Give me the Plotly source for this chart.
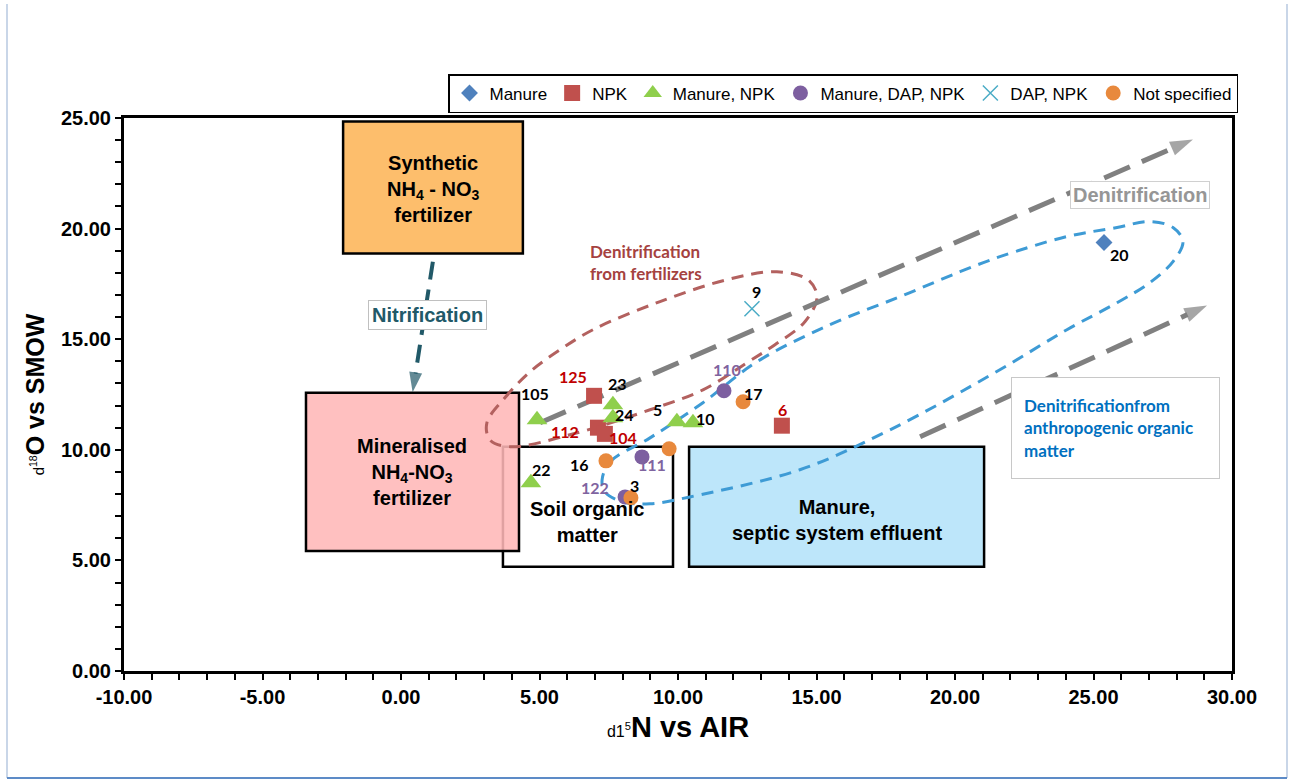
import plotly.graph_objects as go

# ---------------- data ----------------
manure_x = [25.38]
manure_y = [19.37]
manure_lbl = ["20"]

npk_x = [6.97, 7.11, 7.36, 13.75]
npk_y = [12.44, 11.00, 10.72, 11.09]
npk_lbl = ["125", "112", "104", "6"]

mnpk_x = [4.91, 7.65, 7.65, 9.96, 10.54, 4.69]
mnpk_y = [11.36, 12.04, 11.45, 11.27, 11.22, 8.51]
mnpk_lbl = ["105", "23", "24", "5", "10", "22"]

mdap_x = [11.66, 8.70, 8.09]
mdap_y = [12.67, 9.68, 7.87]
mdap_lbl = ["110", "111", "122"]

dap_x = [12.67]
dap_y = [16.38]
dap_lbl = ["9"]

ns_x = [12.35, 9.68, 7.40, 8.30]
ns_y = [12.17, 10.05, 9.50, 7.83]
ns_lbl = ["17", "", "16", "3"]

x_ticks = [-10, -5, 0, 5, 10, 15, 20, 25, 30]
y_ticks = [0, 5, 10, 15, 20, 25]
x_ticktext = ["%.2f" % v for v in x_ticks]
y_ticktext = ["%.2f" % v for v in y_ticks]

# annotation geometry (data units)
red_outline_x = [3.10, 3.75, 4.66, 5.74, 6.93, 9.35, 11.77, 13.57, 14.69, 15.02, 14.58, 13.50, 12.49,
                 10.90, 8.99, 6.10, 3.94, 3.21, 3.10]
red_outline_y = [11.22, 12.35, 13.53, 14.52, 15.43, 16.70, 17.69, 18.05, 17.69, 16.92, 15.79, 14.75, 13.94,
                 12.71, 11.81, 10.68, 10.14, 10.45, 11.22]
blue_outline_x = [7.26, 7.55, 8.99, 10.90, 12.85, 15.49, 18.01, 20.18, 21.62, 24.04, 25.85, 27.04, 27.87,
                  28.23, 27.87, 27.04, 25.85, 24.04, 21.62, 17.65, 14.40, 10.43, 8.99, 7.98, 7.36, 7.26]
blue_outline_y = [8.64, 9.46, 10.54, 12.13, 13.98, 15.66, 16.92, 18.05, 18.73, 19.64, 20.05, 20.32, 20.05,
                  19.41, 18.51, 17.56, 16.65, 15.43, 13.62, 10.90, 9.10, 7.87, 7.56, 7.65, 8.10, 8.64]
arrow1 = ([5.02, 28.59], [11.22, 24.03])
arrow2 = ([18.74, 29.10], [10.59, 16.52])
nitri_arrow = ([1.15, 0.42], [18.5, 12.6])

boxes = [
    # x0, x1, y0, y1, fill
    (3.68, 9.82, 4.71, 10.14, "white"),
    (-3.43, 4.26, 5.43, 12.58, "rgba(255,183,183,0.88)"),
    (-2.09, 4.40, 18.87, 24.84, "#FDBE6C"),
    (10.40, 21.05, 4.71, 10.14, "#BDE6FA"),
]

# ---------------- layout constants ----------------
W, H = 1289, 783
ML, MR, MT, MB = 124, 57, 118, 112
PW, PH = W - ML - MR, H - MT - MB


def px2paper_x(p):
    return (p - ML) / PW


def px2paper_y(p):
    return (H - MB - p) / PH


fig = go.Figure()

# ellipses
fig.add_trace(go.Scatter(x=red_outline_x, y=red_outline_y, mode="lines",
                         line=dict(color="#B3615F", width=3, dash="12px,8px", shape="spline", smoothing=1),
                         showlegend=False, hoverinfo="skip"))
fig.add_trace(go.Scatter(x=blue_outline_x, y=blue_outline_y, mode="lines",
                         line=dict(color="#3E9BD5", width=3, dash="12px,8px", shape="spline", smoothing=1),
                         showlegend=False, hoverinfo="skip"))

# arrows
for (ax, ay), col, w, dash, sz in [
    (arrow1, "#808080", 5, "28px,13px", 24),
    (arrow2, "#808080", 5, "28px,13px", 24),
    (nitri_arrow, "#215968", 4, "18px,10px", 21),
]:
    fig.add_trace(go.Scatter(x=ax, y=ay, mode="lines+markers",
                             line=dict(color=col, width=w, dash=dash),
                             marker=dict(symbol=["circle", "arrow"], size=[0, sz], color=col,
                                         angleref="previous", line=dict(width=0)),
                             showlegend=False, hoverinfo="skip"))

# data series
series = [
    ("Manure", manure_x, manure_y, manure_lbl, dict(symbol="diamond", size=13, color="#4F81BD"), "black"),
    ("NPK", npk_x, npk_y, npk_lbl, dict(symbol="square", size=16, color="#C0504D"), "#C00000"),
    ("Manure, NPK", mnpk_x, mnpk_y, mnpk_lbl, dict(symbol="triangle-up", size=18, color="#8FCF4C"), "black"),
    ("Manure, DAP, NPK", mdap_x, mdap_y, mdap_lbl, dict(symbol="circle", size=15, color="#7D5FA0"), "#7F649F"),
    ("DAP, NPK", dap_x, dap_y, dap_lbl,
     dict(symbol="x-thin", size=15, color="#4BACC6", line=dict(color="#4BACC6", width=1.5)), "black"),
    ("Not specified", ns_x, ns_y, ns_lbl, dict(symbol="circle", size=15, color="#E8893D"), "black"),
]
for name, xs, ys, lbls, mk, lc in series:
    fig.add_trace(go.Scatter(x=xs, y=ys, mode="markers", name=name, marker=mk, text=lbls))

label_offsets = {
    "20": (15, -12), "125": (-21, 19), "112": (-33, -4), "104": (18, -4), "6": (1, 16),
    "105": (-2, 26), "23": (5, 21), "24": (12, 3), "5": (-19, 12), "10": (13, 4), "22": (11, 13),
    "110": (3, 21), "111": (10, -8), "122": (-30, 9), "9": (5, 17), "17": (10, 8), "16": (-26, -4),
    "3": (4, 12),
}
for name, xs, ys, lbls, mk, lc in series:
    for xv, yv, lb in zip(xs, ys, lbls):
        if not lb:
            continue
        dx, dy = label_offsets[lb]
        fig.add_annotation(x=xv, y=yv, text=f"<b>{lb}</b>", showarrow=False, xshift=dx, yshift=dy,
                           font=dict(family="Lato", size=16, color=lc))

# boxes
for x0, x1, y0, y1, fc in boxes:
    fig.add_shape(type="rect", x0=x0, x1=x1, y0=y0, y1=y1, xref="x", yref="y",
                  fillcolor=fc, line=dict(color="black", width=2.5), layer="below")

box_font = dict(family="Liberation Sans", size=20, color="black")
fig.add_annotation(x=1.16, y=21.8, text="<b>Synthetic<br>NH<sub>4</sub> - NO<sub>3</sub><br>fertilizer</b>",
                   showarrow=False, font=box_font)
fig.add_annotation(x=0.40, y=9.0, text="<b>Mineralised<br>NH<sub>4</sub>-NO<sub>3</sub><br>fertilizer</b>",
                   showarrow=False, font=box_font)
fig.add_annotation(x=6.71, y=6.74, text="<b>Soil organic<br>matter</b>", showarrow=False, font=box_font)
fig.add_annotation(x=15.74, y=6.83, text="<b>Manure,<br>septic system effluent</b>", showarrow=False,
                   font=box_font)

fig.add_annotation(x=0.94, y=16.1, text="<b>Nitrification</b>", showarrow=False,
                   font=dict(family="Liberation Sans", size=20, color="#215968"),
                   bgcolor="white", bordercolor="#C0C0C0", borderwidth=1, borderpad=3)
fig.add_annotation(x=26.68, y=21.54, text="<b>Denitrification</b>", showarrow=False,
                   font=dict(family="Liberation Sans", size=20, color="#969696"),
                   bgcolor="white", bordercolor="#D0D0D0", borderwidth=1, borderpad=2)
fig.add_annotation(x=6.75, y=18.46, xanchor="left", align="left",
                   text="<b>Denitrification<br>from fertilizers</b>", showarrow=False,
                   font=dict(family="Lato", size=17, color="#A5423F"))
fig.add_annotation(x=22.02, y=13.3, xanchor="left", yanchor="top", align="left",
                   text="<b>Denitrificationfrom<br>anthropogenic organic<br>matter</b>", showarrow=False,
                   width=183, height=76, valign="middle",
                   font=dict(family="Lato", size=17, color="#0070C0"),
                   bgcolor="white", bordercolor="#C8C8C8", borderwidth=1, borderpad=12)

# outer frame
fig.add_shape(type="line", xref="paper", yref="paper", x0=px2paper_x(7), x1=px2paper_x(7),
              y0=px2paper_y(4), y1=px2paper_y(778), line=dict(color="#C9D6E8", width=2))
fig.add_shape(type="line", xref="paper", yref="paper", x0=px2paper_x(1287), x1=px2paper_x(1287),
              y0=px2paper_y(4), y1=px2paper_y(778), line=dict(color="#C9D6E8", width=2))
fig.add_shape(type="line", xref="paper", yref="paper", x0=px2paper_x(7), x1=px2paper_x(1287),
              y0=px2paper_y(778), y1=px2paper_y(778), line=dict(color="#5D8BC7", width=2))

tick_font = dict(family="Liberation Sans", size=20, color="black", weight="bold")
axis_common = dict(showgrid=False, zeroline=False, showline=True, linecolor="black", linewidth=3,
                   mirror=True, ticks="outside", ticklen=6, tickwidth=2, tickcolor="black",
                   tickfont=tick_font, automargin=False,
                   minor=dict(dtick=1, ticks="outside", ticklen=6, tickwidth=2, tickcolor="black"))

fig.update_layout(
    width=W, height=H, autosize=False,
    margin=dict(l=ML, r=MR, t=MT, b=MB),
    paper_bgcolor="white", plot_bgcolor="white",
    xaxis=dict(range=[-10, 30], tickvals=x_ticks, ticktext=x_ticktext, **axis_common,
               title=dict(text='<span style="font-size:16px;font-weight:normal">d1<sup>5</sup></span>N vs AIR',
                          font=dict(family="Liberation Sans", size=29, color="black", weight="bold"),
                          standoff=10)),
    yaxis=dict(range=[0, 25], tickvals=y_ticks, ticktext=y_ticktext, **axis_common,
               title=dict(text='<span style="font-size:15px;font-weight:normal">d<sup>18</sup></span>O vs SMOW',
                          font=dict(family="Liberation Sans", size=25, color="black", weight="bold"),
                          standoff=10)),
    legend=dict(orientation="h", x=px2paper_x(448), y=px2paper_y(74), xanchor="left", yanchor="top",
                bgcolor="white", bordercolor="black", borderwidth=1.5,
                font=dict(family="Liberation Sans", size=17, color="black"), itemwidth=30),
    showlegend=True,
)

fig.write_html("out.html")
